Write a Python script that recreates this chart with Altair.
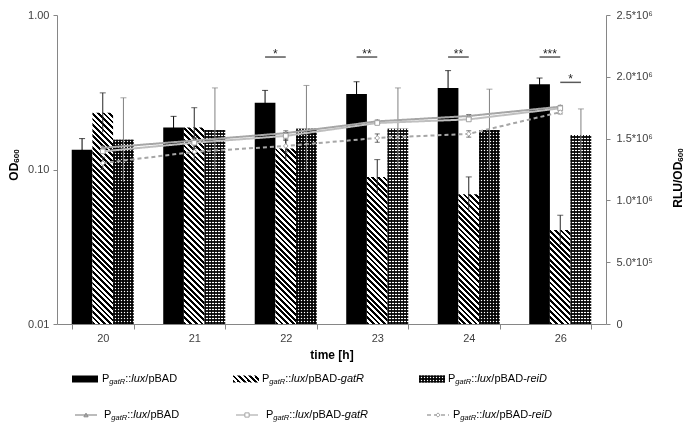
import math
import altair as alt

# ---------------- data ----------------
times = ["20", "21", "22", "23", "24", "26"]
series = ["pBAD", "pBAD-gatR", "pBAD-reiD"]

# RLU/OD600 (bars, right axis)
rlu_pbad = [1.41e6, 1.59e6, 1.79e6, 1.86e6, 1.91e6, 1.94e6]
rlu_pbad_err = [0.09e6, 0.09e6, 0.10e6, 0.10e6, 0.14e6, 0.05e6]
rlu_gatr = [1.71e6, 1.59e6, 1.42e6, 1.19e6, 1.05e6, 0.76e6]
rlu_gatr_err = [0.16e6, 0.16e6, 0.10e6, 0.14e6, 0.14e6, 0.12e6]
rlu_reid = [1.49e6, 1.57e6, 1.58e6, 1.58e6, 1.57e6, 1.53e6]
rlu_reid_err = [0.34e6, 0.34e6, 0.35e6, 0.33e6, 0.33e6, 0.21e6]

# OD600 (lines, left log axis)
od_pbad = [0.138, 0.154, 0.172, 0.205, 0.222, 0.255]
od_pbad_err = [0.004, 0.005, 0.006, 0.004, 0.005, 0.005]
od_gatr = [0.131, 0.149, 0.165, 0.200, 0.211, 0.249]
od_gatr_err = [0.004, 0.012, 0.008, 0.004, 0.005, 0.005]
od_reid = [0.110, 0.130, 0.142, 0.160, 0.170, 0.235]
od_reid_err = [0.010, 0.015, 0.012, 0.010, 0.008, 0.006]

# significance brackets
sig_times = ["22", "23", "24", "26", "26"]
sig_pair = ["left", "left", "left", "left", "right"]
sig_level = [2.16e6, 2.16e6, 2.16e6, 2.16e6, 1.955e6]
sig_text = ["*", "**", "**", "***", "*"]

od_ticks = [0.01, 0.1, 1.0]
rlu_ticks = [0, 5e5, 1e6, 1.5e6, 2e6, 2.5e6]
rlu_tick_labels = ["0", "5.0*10\u2075", "1.0*10\u2076", "1.5*10\u2076", "2.0*10\u2076", "2.5*10\u2076"]

left_title = ["OD", "600"]
right_title = ["RLU/OD", "600"]

# ---------------- layout / style ----------------
W, H = 549, 309
PAD = {"left": 49, "top": 7, "right": 82, "bottom": 102}
FONT = "Liberation Sans"
STEP = W / len(times)
PAD_INNER = 0.322
BAND = STEP * (1 - PAD_INNER)
BARW = BAND / 3
RLU_MAX = 2.5e6
OX, OY = 8 + PAD["left"], 8 + PAD["top"]


def hatch(w, h, period=4.0):
    r = h / w
    k = (1 + r) / (1 + r * r)
    n = max(1, round((w + h) / math.sqrt(2) / period))
    stops = []
    for i in range(n):
        a, b, c = i / n, (i + 0.5) / n, (i + 1) / n
        stops += [{"offset": a, "color": "#000000"}, {"offset": b, "color": "#000000"},
                  {"offset": b, "color": "#ffffff"}, {"offset": c, "color": "#ffffff"}]
    return {"gradient": "linear", "x1": 0, "y1": 1, "x2": k, "y2": 1 - k * r, "stops": stops}


def stripes(length, vertical, period=3.0, dark="#1e1e1e", light="#ffffff", frac=0.6):
    # stripes with an exact pixel period, starting at the bar's bottom / left edge
    n = max(1, math.ceil(length / period))
    span = n * period / length
    stops = []
    for i in range(n):
        a, b, c = i / n, (i + frac) / n, (i + 1) / n
        stops += [{"offset": a, "color": dark}, {"offset": b, "color": dark},
                  {"offset": b, "color": light}, {"offset": c, "color": light}]
    if vertical:
        return {"gradient": "linear", "x1": 0, "y1": 1, "x2": 0, "y2": 1 - span, "stops": stops}
    return {"gradient": "linear", "x1": 0, "y1": 0, "x2": span, "y2": 0, "stops": stops}


def fills(s, w, h):
    if s == "pBAD":
        return "#000000", None
    if s == "pBAD-gatR":
        return hatch(w, h), None
    return stripes(w, False, frac=0.62), stripes(h, True, frac=0.6)


err_color = {"pBAD": "#000000", "pBAD-gatR": "#262626", "pBAD-reiD": "#808080"}

bar_vals = {"pBAD": (rlu_pbad, rlu_pbad_err), "pBAD-gatR": (rlu_gatr, rlu_gatr_err),
            "pBAD-reiD": (rlu_reid, rlu_reid_err)}
bar_rows, over_rows = [], []
for s in series:
    vals, errs = bar_vals[s]
    for t, v, e in zip(times, vals, errs):
        h = v / RLU_MAX * H
        f1, f2 = fills(s, BARW, h)
        bar_rows.append({"time": t, "series": s, "value": v, "lo": v - e, "hi": v + e,
                         "grad": f1, "ecol": err_color[s]})
        if f2 is not None:
            over_rows.append({"time": t, "series": s, "value": v, "grad": f2})

line_vals = {"pBAD": (od_pbad, od_pbad_err), "pBAD-gatR": (od_gatr, od_gatr_err),
             "pBAD-reiD": (od_reid, od_reid_err)}
line_rows = []
for s in series:
    vals, errs = line_vals[s]
    for t, v, e in zip(times, vals, errs):
        line_rows.append({"time": t, "series": s, "od": v, "lo": v - e, "hi": v + e})

sig_rows = [{"time": t, "pair": p, "level": l, "txt": tx}
            for t, p, l, tx in zip(sig_times, sig_pair, sig_level, sig_text)]

line_color = {"pBAD": "#a6a6a6", "pBAD-gatR": "#bfbfbf", "pBAD-reiD": "#a6a6a6"}
line_dash = {"pBAD": [1, 0], "pBAD-gatR": [1, 0], "pBAD-reiD": [4, 3]}
line_width = {"pBAD": 2, "pBAD-gatR": 2, "pBAD-reiD": 1.5}
pt_shape = {"pBAD": "triangle-up", "pBAD-gatR": "square", "pBAD-reiD": "diamond"}
pt_fill = {"pBAD": "#a6a6a6", "pBAD-gatR": "#ffffff", "pBAD-reiD": "#ffffff"}
pt_stroke = {"pBAD": "#8c8c8c", "pBAD-gatR": "#a6a6a6", "pBAD-reiD": "#a6a6a6"}

# ---------------- scales & axes ----------------
xscale = alt.Scale(domain=times, paddingInner=PAD_INNER, paddingOuter=PAD_INNER / 2)
xoff_scale = alt.Scale(domain=series, paddingInner=0, paddingOuter=0)
xaxis = alt.Axis(title="time [h]", tickBand="extent", labelAngle=0, labelPadding=3,
                 titlePadding=6, tickSize=5)
X = alt.X("time:N", scale=xscale, axis=xaxis, sort=times)

rlu_scale = alt.Scale(domain=[0, RLU_MAX], nice=False, zero=True)
expr = "".join(f"datum.value == {v} ? '{l}' : " for v, l in zip(rlu_ticks, rlu_tick_labels)) + "''"
rlu_axis = alt.Axis(orient="right", values=rlu_ticks, labelExpr=expr, grid=False, title=None,
                    labelPadding=6, tickSize=4)
od_scale = alt.Scale(type="log", domain=[0.01, 1], nice=False)
od_axis = alt.Axis(orient="left", values=od_ticks, format=".2f", grid=False, title=None,
                   labelPadding=4, tickSize=4)

bars_data = alt.Data(values=bar_rows)
XO = alt.XOffset("series:N", scale=xoff_scale)
bars = alt.Chart(bars_data).mark_bar(strokeWidth=0).encode(
    x=X, xOffset=XO,
    y=alt.Y("value:Q", scale=rlu_scale, axis=rlu_axis),
    fill=alt.Fill("grad:N", scale=None),
)
over = alt.Chart(alt.Data(values=over_rows)).mark_bar(strokeWidth=0, blend="multiply").encode(
    x=X, xOffset=XO,
    y=alt.Y("value:Q"),
    fill=alt.Fill("grad:N", scale=None),
)
berr = alt.Chart(bars_data).mark_rule(strokeWidth=1).encode(
    x=X, xOffset=XO, y=alt.Y("lo:Q"), y2="hi:Q",
    color=alt.Color("ecol:N", scale=None),
)
bcap = alt.Chart(bars_data).mark_tick(orient="horizontal", size=6, thickness=1).encode(
    x=X, xOffset=XO, y=alt.Y("hi:Q"),
    color=alt.Color("ecol:N", scale=None),
)
sig_data = alt.Data(values=sig_rows)
sig_l = alt.Chart(sig_data).transform_filter("datum.pair == 'left'").mark_rule(
    color="#595959", strokeWidth=1.5, xOffset=-BARW, x2Offset=0).encode(
    x=X, x2="time:N", y=alt.Y("level:Q"))
sig_r = alt.Chart(sig_data).transform_filter("datum.pair == 'right'").mark_rule(
    color="#595959", strokeWidth=1.5, xOffset=0, x2Offset=BARW).encode(
    x=X, x2="time:N", y=alt.Y("level:Q"))
star_l = alt.Chart(sig_data).transform_filter("datum.pair == 'left'").mark_text(
    font=FONT, fontSize=12, color="#262626", baseline="alphabetic", dx=-BARW / 2, dy=1).encode(
    x=X, y=alt.Y("level:Q"), text="txt:N")
star_r = alt.Chart(sig_data).transform_filter("datum.pair == 'right'").mark_text(
    font=FONT, fontSize=12, color="#262626", baseline="alphabetic", dx=BARW / 2, dy=1).encode(
    x=X, y=alt.Y("level:Q"), text="txt:N")

bar_layer = alt.layer(bars, over, berr, bcap, sig_l, sig_r, star_l, star_r)

line_data = alt.Data(values=line_rows)
S = lambda d: alt.Scale(domain=series, range=[d[s] for s in series])
lines = alt.Chart(line_data).mark_line().encode(
    x=X,
    y=alt.Y("od:Q", scale=od_scale, axis=od_axis),
    color=alt.Color("series:N", scale=S(line_color), legend=None),
    strokeDash=alt.StrokeDash("series:N", scale=S(line_dash), legend=None),
    strokeWidth=alt.StrokeWidth("series:N", scale=S(line_width), legend=None),
)
lerr = alt.Chart(line_data).mark_rule(color="#404040", strokeWidth=1).encode(
    x=X, y=alt.Y("lo:Q"), y2="hi:Q")
lcap = alt.Chart(line_data).mark_tick(orient="horizontal", size=5, thickness=1, color="#404040").encode(
    x=X, y=alt.Y("hi:Q"))
lcap2 = alt.Chart(line_data).mark_tick(orient="horizontal", size=5, thickness=1, color="#404040").encode(
    x=X, y=alt.Y("lo:Q"))
pts = alt.Chart(line_data).mark_point(size=22, strokeWidth=1, opacity=1, filled=False).encode(
    x=X, y=alt.Y("od:Q"),
    shape=alt.Shape("series:N", scale=S(pt_shape), legend=None),
    fill=alt.Fill("series:N", scale=S(pt_fill), legend=None),
    stroke=alt.Stroke("series:N", scale=S(pt_stroke), legend=None),
)
line_layer = alt.layer(lines, lerr, lcap, lcap2, pts)

# ---------------- axis titles with subscripts ----------------
BOLD = {'O': 778, 'D': 722, 'R': 722, 'L': 611, 'U': 722, '/': 278, '6': 556, '0': 556}
ARIAL = {'P': 667, 'g': 556, 'a': 556, 't': 278, 'R': 722, ':': 278, 'l': 222, 'u': 556,
         'x': 500, '/': 278, 'p': 556, 'B': 667, 'A': 667, 'D': 722, '-': 333, 'r': 333,
         'e': 556, 'i': 222}
T_FS, T_SUB = 12, 8


def tw(s, fs, table):
    return sum(table.get(c, 556) for c in s) * fs / 1000


title_rows = []
for (main, sub), cx, cy in ((left_title, 14, 165), (right_title, 678, 178)):
    wm, ws = tw(main, T_FS, BOLD), tw(sub, T_SUB, BOLD)
    joint = cy + (wm + ws) / 2 - wm
    title_rows.append({"txt": main, "x": cx - OX, "y": joint - OY, "st": "main"})
    title_rows.append({"txt": sub, "x": cx + 3 - OX, "y": joint - OY, "st": "sub"})

PX = lambda f: alt.X(f, scale=None, axis=None)
PY = lambda f: alt.Y(f, scale=None, axis=None)
tt_data = alt.Data(values=title_rows)
t_main = alt.Chart(tt_data).transform_filter("datum.st == 'main'").mark_text(
    font=FONT, fontSize=T_FS, fontWeight="bold", angle=270, align="right", baseline="middle",
    color="#000000").encode(x=PX("x:Q"), y=PY("y:Q"), text="txt:N")
t_sub = alt.Chart(tt_data).transform_filter("datum.st == 'sub'").mark_text(
    font=FONT, fontSize=T_SUB, fontWeight="bold", angle=270, align="left", baseline="middle",
    color="#000000").encode(x=PX("x:Q"), y=PY("y:Q"), text="txt:N")

# ---------------- legend (drawn below the plot) ----------------
row1_y, row2_y = 379 - OY, 415 - OY
sw1_x = [72 - OX, 233 - OX, 419 - OX]
tx1_x = [102 - OX, 262 - OX, 448 - OX]
ln2_x = [75 - OX, 236 - OX, 427 - OX]
tx2_x = [104 - OX, 266 - OX, 453 - OX]
SW_W, SW_H, LN_W = 26, 7, 22
FS, FS_SUB = 11, 7.5


def label_segments(s):
    segs = [("P", "n"), ("gatR", "s"), ("::", "n"), ("lux", "i"), ("/pBAD", "n")]
    if s == "pBAD-gatR":
        segs += [("-", "n"), ("gatR", "i")]
    if s == "pBAD-reiD":
        segs += [("-", "n"), ("reiD", "i")]
    return segs


leg_text = []
for xs, y in ((tx1_x, row1_y), (tx2_x, row2_y)):
    for s, x0 in zip(series, xs):
        x = x0
        for txt, st in label_segments(s):
            fs = FS_SUB if st == "s" else FS
            leg_text.append({"txt": txt, "x": x, "y": y + (3 if st == "s" else 0), "st": st})
            x += tw(txt, fs, ARIAL)

sw_rows, sw_over = [], []
for s, x0 in zip(series, sw1_x):
    f1, f2 = fills(s, SW_W, SW_H)
    rec = {"x": x0, "x2": x0 + SW_W, "y": row1_y - SW_H / 2, "y2": row1_y + SW_H / 2}
    sw_rows.append(dict(rec, grad=f1))
    if f2 is not None:
        sw_over.append(dict(rec, grad=f2))

ln_rows = []
for s, x0 in zip(series, ln2_x):
    ln_rows.append({"x": x0, "x2": x0 + LN_W, "xm": x0 + LN_W / 2, "y": row2_y,
                    "col": line_color[s], "dash": line_dash[s], "series": s})

leg_sw = alt.Chart(alt.Data(values=sw_rows)).mark_rect(strokeWidth=0).encode(
    x=PX("x:Q"), x2="x2:Q", y=PY("y:Q"), y2="y2:Q", fill=alt.Fill("grad:N", scale=None))
leg_sw2 = alt.Chart(alt.Data(values=sw_over)).mark_rect(strokeWidth=0, blend="multiply").encode(
    x=PX("x:Q"), x2="x2:Q", y=PY("y:Q"), y2="y2:Q", fill=alt.Fill("grad:N", scale=None))
ln_data = alt.Data(values=ln_rows)
leg_ln = alt.Chart(ln_data).mark_rule(strokeWidth=1.5).encode(
    x=PX("x:Q"), x2="x2:Q", y=PY("y:Q"),
    color=alt.Color("col:N", scale=None), strokeDash=alt.StrokeDash("dash:N", scale=None))
leg_pt = alt.Chart(ln_data).mark_point(size=18, strokeWidth=1, opacity=1).encode(
    x=PX("xm:Q"), y=PY("y:Q"),
    shape=alt.Shape("series:N", scale=S(pt_shape), legend=None),
    fill=alt.Fill("series:N", scale=S(pt_fill), legend=None),
    stroke=alt.Stroke("series:N", scale=S(pt_stroke), legend=None),
)
lt_data = alt.Data(values=leg_text)
leg_n = alt.Chart(lt_data).transform_filter("datum.st == 'n'").mark_text(
    font=FONT, fontSize=FS, align="left", baseline="middle", color="#000000").encode(
    x=PX("x:Q"), y=PY("y:Q"), text="txt:N")
leg_i = alt.Chart(lt_data).transform_filter("datum.st == 'i'").mark_text(
    font=FONT, fontSize=FS, fontStyle="italic", align="left", baseline="middle", color="#000000").encode(
    x=PX("x:Q"), y=PY("y:Q"), text="txt:N")
leg_s = alt.Chart(lt_data).transform_filter("datum.st == 's'").mark_text(
    font=FONT, fontSize=FS_SUB, fontStyle="italic", align="left", baseline="middle", color="#000000").encode(
    x=PX("x:Q"), y=PY("y:Q"), text="txt:N")

legend_layer = alt.layer(t_main, t_sub, leg_sw, leg_sw2, leg_ln, leg_pt, leg_n, leg_i, leg_s)

chart = alt.layer(bar_layer, line_layer, legend_layer).resolve_scale(
    y="independent", fill="independent", shape="independent", stroke="independent",
    color="independent", strokeDash="independent"
).properties(
    width=W, height=H,
    autosize=alt.AutoSizeParams(type="none"),
    padding=PAD,
    background="white",
).configure_view(stroke=None).configure_axis(
    labelFont=FONT, labelFontSize=11, labelColor="#404040",
    titleFont=FONT, titleFontSize=12, titleFontWeight="bold", titleColor="#000000",
    domainColor="#868686", tickColor="#868686",
)

chart.save("out.html", embed_options={"renderer": "svg", "actions": False})
